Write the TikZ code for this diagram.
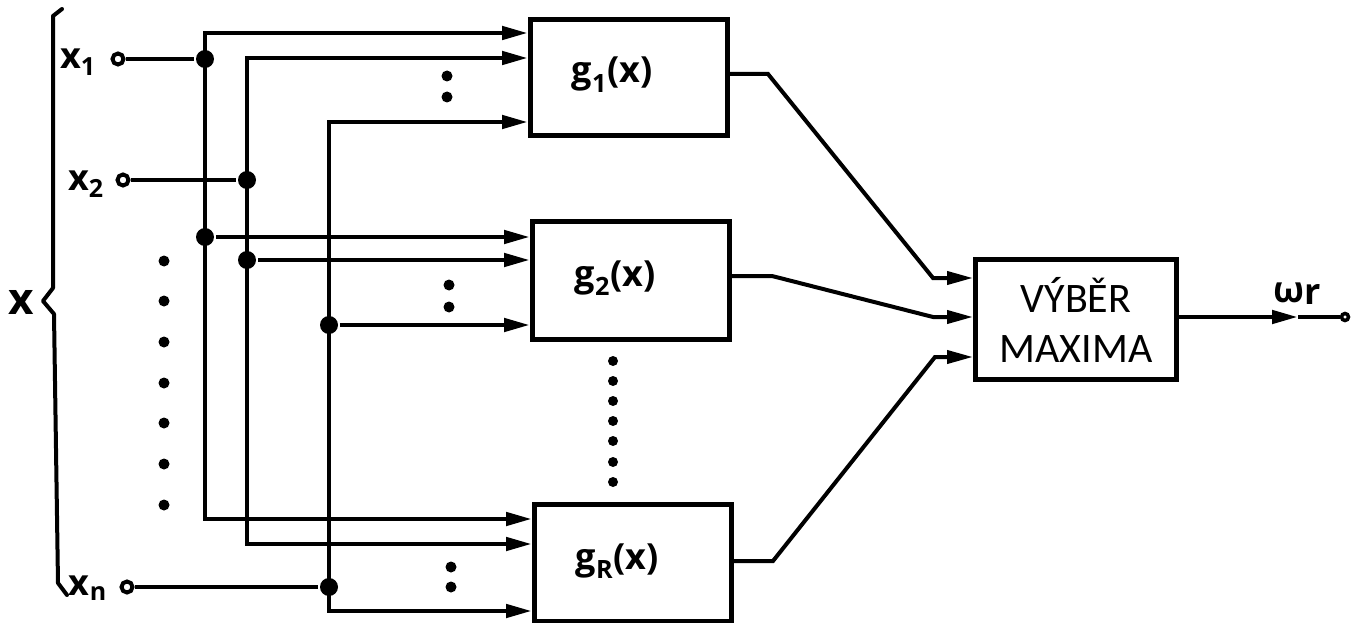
\documentclass[tikz,border=0pt]{standalone}
\usepackage{fontspec}
\setmainfont{Open Sans}
\newfontfamily\calfont{Carlito}
\usetikzlibrary{arrows.meta,calc}
\newcommand\sbs[2][-7pt]{\raisebox{#1}{\fontsize{25}{25}\selectfont #2}}
\begin{document}
\begin{tikzpicture}[x=1pt,y=-1pt, line width=4.6pt,
  >={Triangle[length=26pt,width=13pt]},
  box/.style={draw, rectangle, inner sep=0pt, line width=5pt},
  dot/.style={circle, fill, inner sep=0pt, minimum size=18pt},
  term/.style={circle, draw, fill=white, inner sep=0pt, minimum size=11pt, line width=4pt},
  pt/.style={circle, fill, inner sep=0pt, minimum size=11pt},
  lab/.style={inner sep=0pt, font=\bfseries\fontsize{36}{36}\selectfont},
  outl/.style={line width=4pt, line join=miter}
]
\useasboundingbox (0,0) rectangle (1353,623);
\fill[white] (0,0) rectangle (1353,623);

% boxes
\node[box, minimum width=197pt, minimum height=116pt] (g1) at (629,77.5) {};
\node[box, minimum width=197pt, minimum height=118pt] (g2) at (631,280.5) {};
\node[box, minimum width=197pt, minimum height=117pt] (gR) at (633,563) {};
\node[box, minimum width=201pt, minimum height=120pt, align=center,
      font=\calfont\fontsize{42}{50}\selectfont] (vm) at (1076,319.5) {VÝBĚR\\MAXIMA};

% box labels
\node[lab, anchor=base] (g1t) at ([xshift=-17pt,yshift=-5.5pt]g1.center) {g\textsubscript{1}(x)};
\node[lab, anchor=base] (g2t) at ([xshift=-16pt,yshift=-5.5pt]g2.center) {g\textsubscript{2}(x)};
\node[lab, anchor=base] (gRt) at ([xshift=-16pt,yshift=-6pt]gR.center) {g\textsubscript{R}(x)};

% bus coordinates
\coordinate (t1) at (205,33);  \coordinate (b1) at (205,519);
\coordinate (t2) at (247,58);  \coordinate (b2) at (247,544);
\coordinate (t3) at (329,122); \coordinate (b3) at (329,611);

% input terminals
\node[term] (in1) at (118,59) {};
\node[term] (in2) at (123,180) {};
\node[term] (inn) at (127,587) {};

% junction dots
\node[dot] (j1a) at (205,59) {};
\node[dot] (j1b) at (205,237) {};
\node[dot] (j2a) at (247,180) {};
\node[dot] (j2b) at (247,260) {};
\node[dot] (j3a) at (329,325) {};
\node[dot] (j3b) at (329,587) {};

% buses
\draw[<->] (t1 -| g1.west) -- (t1) -- (b1) -- (b1 -| gR.west);
\draw[<->] (t2 -| g1.west) -- (t2) -- (b2) -- (b2 -| gR.west);
\draw[<->] (t3 -| g1.west) -- (t3) -- (b3) -- (b3 -| gR.west);
\draw[->] (j1b) -- (j1b -| g2.west);
\draw[->] (j2b) -- (j2b -| g2.west);
\draw[->] (j3a) -- (j3a -| g2.west);

% inputs
\draw (in1) -- (j1a);
\draw (in2) -- (j2a);
\draw (inn) -- (j3b);

% input labels
\node[lab, anchor=base east] (lx1) at ([xshift=-13pt,yshift=-10pt]in1.west) {x\sbs{1}};
\node[lab, anchor=base east] (lx2) at ([xshift=-10pt,yshift=-10pt]in2.west) {x\sbs{2}};
\node[lab, anchor=base east] (lxn) at ([xshift=-11pt,yshift=-8pt]inn.west) {x\sbs[-5pt]{n}};
\node[inner sep=0pt, font=\bfseries\fontsize{44}{44}\selectfont] (X) at (21,302) {x};

% brace
\draw[line width=4pt, line join=round, line cap=round]
  (62,9) -- (53,16) -- (53,288) -- (43,301) -- (54,314) -- (58,583) -- (67,595);

% ellipsis dots
\foreach \y [count=\i] in {261,301,342,383,423,464,505} \node[pt] (lc\i) at (164,\y) {};
\node[pt] (d1a) at (447,76) {};  \node[pt] (d1b) at (447,97) {};
\node[pt] (d2a) at (449,285) {}; \node[pt] (d2b) at (449,307) {};
\node[pt] (d3a) at (451,567) {}; \node[pt] (d3b) at (451,587) {};
\foreach \y [count=\i] in {361,381,401,421,441,462,482} \node[pt, minimum size=10pt] (vd\i) at (613,\y) {};

% outputs to selector
\coordinate (p1) at (768,74);  \coordinate (q1) at (933,278);
\coordinate (p2) at (772,276); \coordinate (q2) at (933,317);
\coordinate (p3) at (773,561); \coordinate (q3) at (935,357);
\draw[->, outl] (p1 -| g1.east) -- (p1) -- (q1) -- (q1 -| vm.west);
\draw[->, outl] (p2 -| g2.east) -- (p2) -- (q2) -- (q2 -| vm.west);
\draw[->, outl] (p3 -| gR.east) -- (p3) -- (q3) -- (q3 -| vm.west);

% final output
\coordinate (oa) at (1298,317);
\node[term, minimum size=7pt, line width=3.5pt] (out) at (1345,317) {};
\draw[->] (vm.east |- oa) -- (oa);
\draw (oa) -- (out);
\node[lab, anchor=base west] (om) at (1271,302) {ω\raisebox{-2pt}{r}};
\end{tikzpicture}
\end{document}
